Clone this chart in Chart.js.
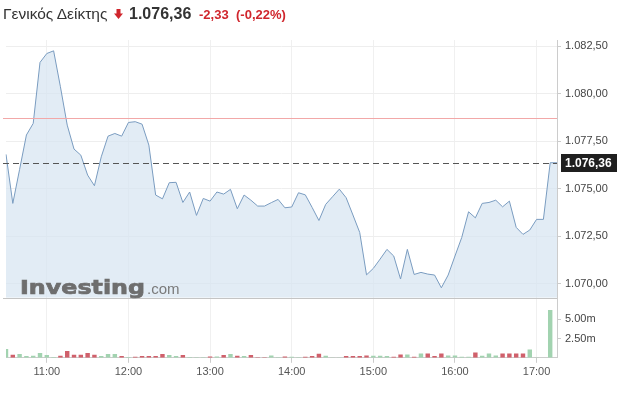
<!DOCTYPE html>
<html>
<head>
<meta charset="utf-8">
<script src="https://cdn.jsdelivr.net/npm/chart.js@4.4.1/dist/chart.umd.min.js"></script>
<style>
  html, body { margin: 0; padding: 0; background: #fff; }
  body { width: 622px; height: 398px; position: relative; overflow: hidden; font-family: "Liberation Sans", Arial, sans-serif; }
  #chart { position: absolute; left: 0; top: 0; }
  .hd { position: absolute; white-space: nowrap; line-height: 1; }
  .name { left: 3px; top: 6.3px; font-size: 15.5px; color: #333; }
  .last { left: 129px; top: 5.8px; font-size: 16px; font-weight: bold; color: #333; }
  .chg { top: 8.3px; font-size: 13px; font-weight: bold; color: #d0262d; }
  .arrow { position: absolute; left: 114px; top: 9px; }
  .wm { position: absolute; white-space: nowrap; line-height: 1; transform-origin: 0 0; }
  .wm-main { left: 20px; top: 276px; font: bold 19px "DejaVu Sans", sans-serif; color: #6e6e6e; -webkit-text-stroke: 0.7px #6e6e6e; }
  .wm-com { left: 147px; top: 280px; font: 15px "Liberation Sans", Arial, sans-serif; color: #7a7a7a; }
</style>
</head>
<body>
<canvas id="chart" width="622" height="398"></canvas>

<div class="hd name">Γενικός Δείκτης</div>
<svg class="arrow" width="9" height="10" viewBox="0 0 9 10"><polygon points="2.5,0 6.5,0 6.5,4.5 9,4.5 4.5,10 0,4.5 2.5,4.5" fill="#d0262d"/></svg>
<div class="hd last">1.076,36</div>
<div class="hd chg" style="left:199px">-2,33</div>
<div class="hd chg" style="left:236px">(-0,22%)</div>

<div class="wm wm-main" id="wmMain">Investing</div>
<div class="wm wm-com">.com</div>

<script>
// 5-minute bars, 10:30 - 17:15
const times = [
  '10:30','10:35','10:40','10:45','10:50','10:55',
  '11:00','11:05','11:10','11:15','11:20','11:25','11:30','11:35','11:40','11:45','11:50','11:55',
  '12:00','12:05','12:10','12:15','12:20','12:25','12:30','12:35','12:40','12:45','12:50','12:55',
  '13:00','13:05','13:10','13:15','13:20','13:25','13:30','13:35','13:40','13:45','13:50','13:55',
  '14:00','14:05','14:10','14:15','14:20','14:25','14:30','14:35','14:40','14:45','14:50','14:55',
  '15:00','15:05','15:10','15:15','15:20','15:25','15:30','15:35','15:40','15:45','15:50','15:55',
  '16:00','16:05','16:10','16:15','16:20','16:25','16:30','16:35','16:40','16:45','16:50','16:55',
  '17:00','17:05','17:10','17:15'
];

const prices = [
  1076.80, 1074.22, 1076.01, 1077.82, 1078.43, 1081.64,
  1082.11, 1082.25, 1080.36, 1078.34, 1077.08, 1076.76, 1075.71, 1075.15, 1076.67, 1077.76, 1077.90, 1077.76,
  1078.48, 1078.52, 1078.39, 1077.29, 1074.66, 1074.46, 1075.31, 1075.33, 1074.27, 1074.82, 1073.59, 1074.48,
  1074.34, 1074.82, 1074.71, 1074.96, 1073.94, 1074.66, 1074.39, 1074.08, 1074.08, 1074.26, 1074.43, 1073.99,
  1074.03, 1074.78, 1074.67, 1074.01, 1073.32, 1074.17, 1074.57, 1074.97, 1074.52, 1073.61, 1072.69, 1070.46,
  1070.80, 1071.29, 1071.80, 1071.45, 1070.24, 1071.80, 1070.48, 1070.59, 1070.50, 1070.45, 1069.78, 1070.45,
  1071.45, 1072.43, 1073.78, 1073.46, 1074.22, 1074.27, 1074.39, 1074.04, 1074.34, 1072.96, 1072.59, 1072.82,
  1073.38, 1073.38, 1076.36, 1076.36
];

// volume in millions
const volumes = [
  1.13, 0.39, 0.48, 0.22, 0.26, 0.61,
  0.35, 0.09, 0.26, 0.87, 0.39, 0.39, 0.61, 0.39, 0.22, 0.48, 0.48, 0.22,
  0.09, 0.13, 0.22, 0.22, 0.22, 0.48, 0.35, 0.22, 0.35, 0.09, 0.06, 0.06,
  0.17, 0.17, 0.35, 0.48, 0.26, 0.22, 0.35, 0.06, 0.06, 0.30, 0.06, 0.17,
  0.13, 0.06, 0.13, 0.22, 0.52, 0.26, 0.05, 0.05, 0.22, 0.22, 0.22, 0.30,
  0.26, 0.26, 0.24, 0.13, 0.43, 0.43, 0.13, 0.56, 0.56, 0.22, 0.56, 0.30,
  0.30, 0.13, 0.13, 0.69, 0.26, 0.56, 0.30, 0.56, 0.56, 0.56, 0.56, 1.08,
  0.04, 0, 6.20, 0
];

// 1 = up bar (green), 0 = down bar (red)
const volUp = [
  1, 0, 1, 1, 1, 1,
  1, 1, 0, 0, 0, 0, 0, 0, 1, 1, 1, 0,
  1, 0, 0, 0, 0, 0, 1, 1, 0, 1, 1, 1,
  0, 1, 0, 1, 0, 1, 0, 0, 0, 1, 1, 0,
  1, 1, 0, 0, 0, 1, 1, 1, 0, 0, 0, 0,
  1, 1, 1, 0, 0, 1, 0, 1, 0, 0, 0, 1,
  1, 1, 1, 0, 1, 1, 1, 0, 0, 0, 0, 1,
  1, 1, 1, 1
];

const priceTicks = [1070, 1072.5, 1075, 1077.5, 1080, 1082.5];
const volTicks = [2.5, 5];
const prevClose = 1078.69;
const lastPrice = 1076.36;

function fmtGr(v) {
  const [i, d] = v.toFixed(2).split('.');
  return i.replace(/\B(?=(\d{3})+(?!\d))/g, '.') + ',' + d;
}

const refLines = {
  id: 'refLines',
  afterDraw(chart) {
    const { ctx, chartArea: a, scales: { y } } = chart;
    ctx.save();
    ctx.lineWidth = 1;

    // panel separator
    const ys = Math.round(y.bottom) + 0.5;
    ctx.strokeStyle = '#c4c4c4';
    ctx.beginPath(); ctx.moveTo(a.left - 3, ys); ctx.lineTo(a.right, ys); ctx.stroke();

    // previous close
    const yp = Math.round(y.getPixelForValue(prevClose)) + 0.5;
    ctx.strokeStyle = '#f2a8a8';
    ctx.beginPath(); ctx.moveTo(a.left - 3, yp); ctx.lineTo(a.right, yp); ctx.stroke();

    // last price
    const yl = Math.round(y.getPixelForValue(lastPrice)) + 0.5;
    ctx.strokeStyle = '#555';
    ctx.setLineDash([6, 4]);
    ctx.beginPath(); ctx.moveTo(a.left - 3, yl); ctx.lineTo(a.right, yl); ctx.stroke();
    ctx.setLineDash([]);

    ctx.fillStyle = '#1f1f1f';
    ctx.fillRect(a.right + 4, yl - 9.5, 56, 18);
    ctx.fillStyle = '#fff';
    ctx.font = 'bold 12px "Liberation Sans", Arial, sans-serif';
    ctx.textBaseline = 'middle';
    ctx.fillText(fmtGr(lastPrice), a.right + 8, yl + 0.5);
    ctx.restore();
  }
};

new Chart(document.getElementById('chart'), {
  type: 'line',
  data: {
    labels: times,
    datasets: [
      {
        type: 'line',
        data: prices,
        yAxisID: 'y',
        borderColor: '#7a9cc0',
        borderWidth: 1,
        backgroundColor: 'rgba(214, 228, 241, 0.7)',
        fill: 'start',
        pointRadius: 0,
        tension: 0
      },
      {
        type: 'bar',
        data: volumes,
        yAxisID: 'yVol',
        backgroundColor: volUp.map(u => u ? '#a2d3b0' : '#d0606b'),
        barPercentage: 0.65,
        categoryPercentage: 1
      }
    ]
  },
  options: {
    responsive: false,
    animation: false,
    devicePixelRatio: 1,
    layout: { padding: { top: 40, left: 6, right: 0, bottom: 16 } },
    plugins: { legend: { display: false }, tooltip: { enabled: false } },
    scales: {
      x: {
        type: 'category',
        offset: false,
        grid: { offset: false, color: '#f0f0f0', tickColor: '#cccccc', tickLength: 5 },
        border: { color: '#cccccc' },
        ticks: {
          autoSkip: false,
          maxRotation: 0,
          padding: 3,
          color: '#555',
          font: { family: '"Liberation Sans", Arial, sans-serif', size: 11 },
          callback: (v, i) => times[i].endsWith(':00') ? times[i] : null
        }
      },
      y: {
        type: 'linear',
        position: 'right',
        stack: 'panels',
        stackWeight: 257,
        min: 1069.26,
        max: 1082.82,
        afterBuildTicks: s => { s.ticks = priceTicks.map(v => ({ value: v })); },
        afterFit: s => { s.width = 65; },
        grid: { color: '#eeeeee', tickColor: '#cccccc', tickLength: 4 },
        border: { color: '#cccccc' },
        ticks: {
          padding: 4,
          color: '#444',
          font: { family: '"Liberation Sans", Arial, sans-serif', size: 11 },
          callback: v => fmtGr(v)
        }
      },
      yVol: {
        type: 'linear',
        position: 'right',
        stack: 'panels',
        stackWeight: 60,
        min: 0,
        max: 7.8,
        afterBuildTicks: s => { s.ticks = volTicks.map(v => ({ value: v })); },
        afterFit: s => { s.width = 65; },
        grid: { drawOnChartArea: false, tickColor: '#cccccc', tickLength: 4 },
        border: { color: '#cccccc' },
        ticks: {
          padding: 4,
          color: '#444',
          font: { family: '"Liberation Sans", Arial, sans-serif', size: 11 },
          callback: v => v.toFixed(2) + 'm'
        }
      }
    }
  },
  plugins: [refLines]
});

// stretch the watermark word to the logo's width
const wm = document.getElementById('wmMain');
wm.style.transform = 'scaleX(' + (125 / wm.getBoundingClientRect().width) + ')';
</script>
</body>
</html>
